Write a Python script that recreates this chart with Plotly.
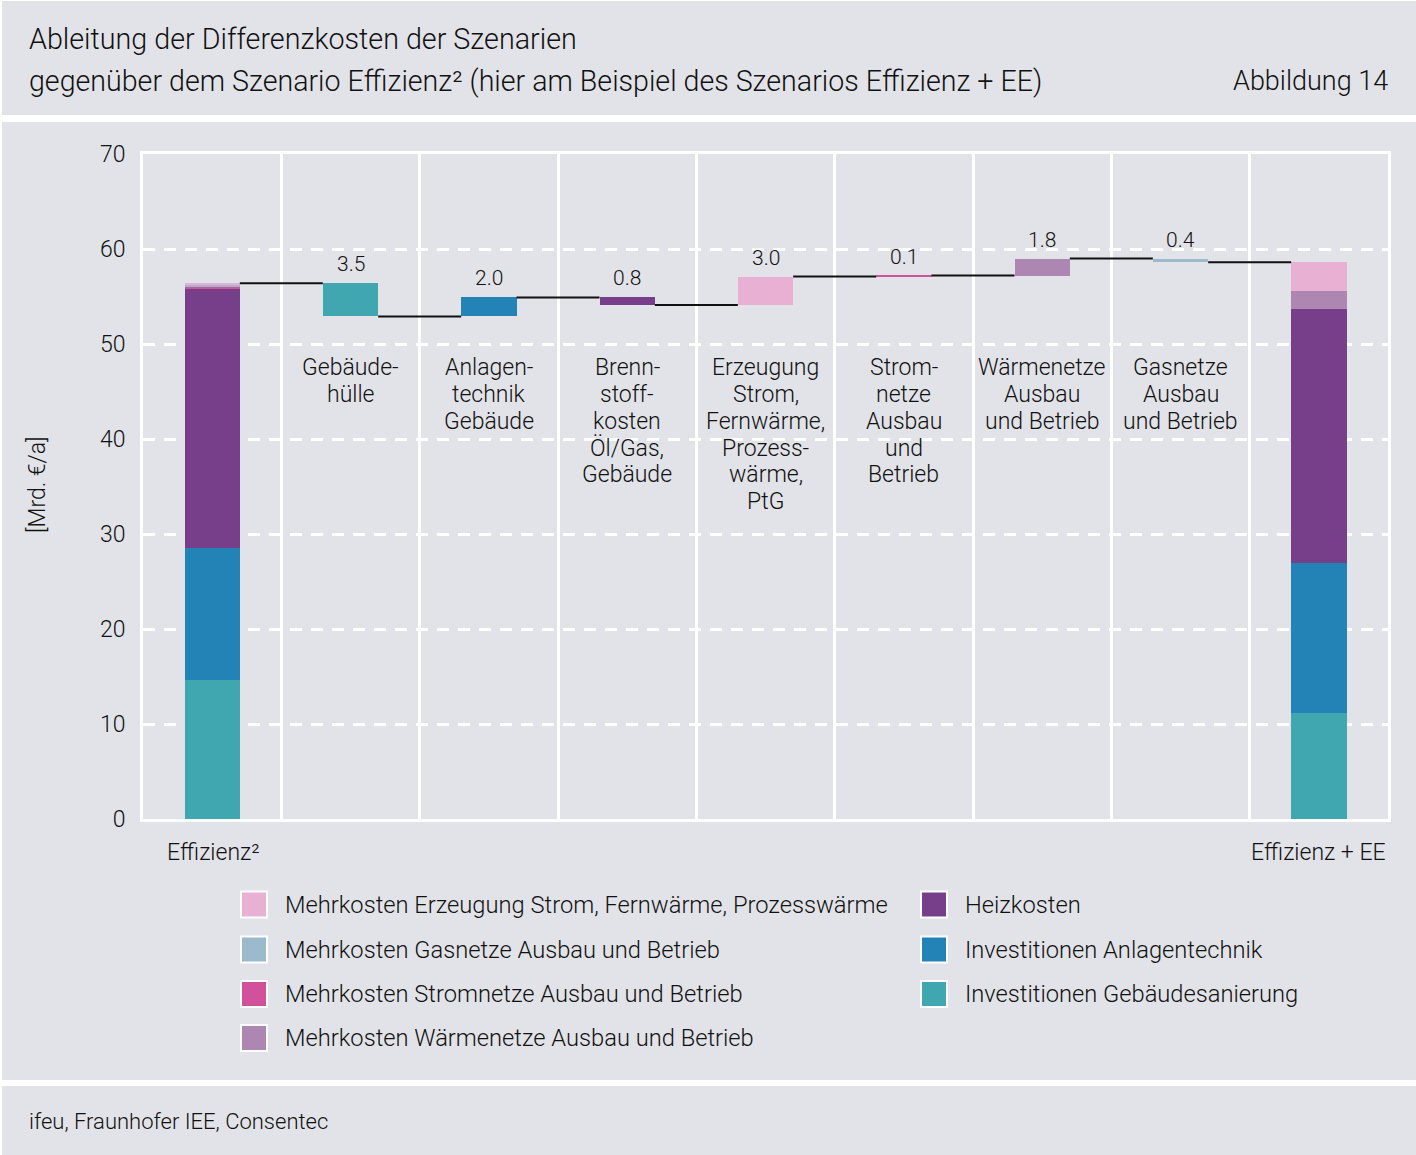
import numpy as np
import plotly.graph_objects as go

# Pixel frame of the plot area inside the 1416x1155 page
W, H = 1416, 1155
L, R, T, B = 143, 1388, 154, 819


def fx(p):
    return (p - L) / (R - L)


def fy(p):
    return (B - p) / (B - T)


# --- data -------------------------------------------------------------
components = [
    "Investitionen Gebäudesanierung",
    "Investitionen Anlagentechnik",
    "Heizkosten",
    "Mehrkosten Stromnetze Ausbau und Betrieb",
    "Mehrkosten Gasnetze Ausbau und Betrieb",
    "Mehrkosten Wärmenetze Ausbau und Betrieb",
    "Mehrkosten Erzeugung Strom, Fernwärme, Prozesswärme",
]
colors = ["#40a7b1", "#2383b7", "#773e8a", "#d1519a", "#9bbbcc", "#ad86b2", "#e8b0d2"]

start_name = "Effizienz²"
end_name = "Effizienz + EE"
start_values = [14.6, 13.9, 27.3, 0.2, 0.3, 0.0, 0.1]
end_values = [11.2, 15.8, 26.7, 0.0, 0.0, 1.9, 3.0]

step_names = [
    "Gebäude-<br>hülle",
    "Anlagen-<br>technik<br>Gebäude",
    "Brenn-<br>stoff-<br>kosten<br>Öl/Gas,<br>Gebäude",
    "Erzeugung<br>Strom,<br>Fernwärme,<br>Prozess-<br>wärme,<br>PtG",
    "Strom-<br>netze<br>Ausbau<br>und<br>Betrieb",
    "Wärmenetze<br>Ausbau<br>und Betrieb",
    "Gasnetze<br>Ausbau<br>und Betrieb",
]
step_values = [-3.5, 2.0, -0.8, 3.0, 0.1, 1.8, -0.4]
step_component = [0, 1, 2, 6, 3, 5, 4]

# legend layout: two columns
legend_col1 = [6, 4, 3, 5]
legend_col2 = [2, 1, 0]

panel = "#e2e3e8"
ink = "#111111"
FONT = "Roboto"
WEIGHT = 300

fig = go.Figure()

# end bars (stacked by hand with base)
start_base = np.concatenate([[0], np.cumsum(start_values)[:-1]])
end_base = np.concatenate([[0], np.cumsum(end_values)[:-1]])
for k, name in enumerate(components):
    fig.add_trace(go.Bar(
        x=[0, 8], y=[start_values[k], end_values[k]],
        base=[start_base[k], end_base[k]],
        width=0.4, marker=dict(color=colors[k], line=dict(width=0)),
        name=name, showlegend=False,
    ))

# waterfall steps
start_total = float(np.sum(start_values))
levels = start_total + np.cumsum(step_values)
prev = np.concatenate([[start_total], levels[:-1]])
step_x = list(range(1, 8))
fig.add_trace(go.Bar(
    x=step_x, y=np.abs(step_values), base=np.minimum(prev, levels),
    width=0.4,
    marker=dict(color=[colors[c] for c in step_component], line=dict(width=0)),
    showlegend=False,
))

# connector lines
all_levels = np.concatenate([[start_total], levels])
cx, cy = [], []
for i in range(8):
    cx += [i + 0.2, i + 0.8, None]
    cy += [all_levels[i], all_levels[i], None]
fig.add_trace(go.Scatter(x=cx, y=cy, mode="lines",
                         line=dict(color=ink, width=2), showlegend=False,
                         hoverinfo="skip"))


def tfont(size):
    return dict(size=size, color=ink, family=FONT, weight=WEIGHT)


ann = []
# value labels and category labels (one annotation per line for tight spacing)
for i, v in enumerate(step_values):
    top = max(prev[i], levels[i])
    ann.append(dict(x=i + 1, y=top, xref="x", yref="y", text=f"{abs(v):.1f}",
                    showarrow=False, yanchor="bottom", yshift=5,
                    font=tfont(21)))
    for j, line in enumerate(step_names[i].split("<br>")):
        ann.append(dict(x=i + 1, y=47.5, xref="x", yref="y", text=line,
                        showarrow=False, yanchor="middle", yshift=-26.8 * j,
                        font=tfont(23)))

# end labels
ann.append(dict(x=fx(165), y=fy(852), xref="paper", yref="paper", text=start_name,
                showarrow=False, xanchor="left", yanchor="middle",
                font=tfont(23)))
ann.append(dict(x=fx(1388), y=fy(852), xref="paper", yref="paper", text=end_name,
                showarrow=False, xanchor="right", yanchor="middle",
                font=tfont(23)))

# y axis title
ann.append(dict(x=fx(37), y=fy(485), xref="paper", yref="paper", text="[Mrd. €/a]",
                showarrow=False, textangle=-90, xanchor="center", yanchor="middle",
                font=tfont(23)))

# titles and source
ann.append(dict(x=fx(27), y=fy(39), xref="paper", yref="paper",
                text="Ableitung der Differenzkosten der Szenarien",
                showarrow=False, xanchor="left", yanchor="middle",
                font=tfont(28.7)))
ann.append(dict(x=fx(27), y=fy(81), xref="paper", yref="paper",
                text="gegenüber dem Szenario Effizienz² (hier am Beispiel des Szenarios Effizienz + EE)",
                showarrow=False, xanchor="left", yanchor="middle",
                font=tfont(28.6)))
ann.append(dict(x=fx(1390), y=fy(81), xref="paper", yref="paper",
                text="Abbildung 14",
                showarrow=False, xanchor="right", yanchor="middle",
                font=tfont(27)))
ann.append(dict(x=fx(27), y=fy(1121), xref="paper", yref="paper",
                text="ifeu, Fraunhofer IEE, Consentec",
                showarrow=False, xanchor="left", yanchor="middle",
                font=tfont(22)))

shapes = []
# background panels
for (y0, y1) in [(1, 115), (122, 1080), (1086, 1155)]:
    shapes.append(dict(type="rect", xref="paper", yref="paper", layer="below",
                       x0=fx(2), x1=fx(1416), y0=fy(y1), y1=fy(y0),
                       fillcolor=panel, line=dict(width=0)))

# custom legend
rows = [904.5, 949.5, 994, 1038]
for col_x, items in [(241, legend_col1), (921, legend_col2)]:
    for r, k in enumerate(items):
        yc = rows[r]
        shapes.append(dict(type="rect", xref="paper", yref="paper",
                           x0=fx(col_x), x1=fx(col_x + 26),
                           y0=fy(yc + 13), y1=fy(yc - 13),
                           fillcolor=colors[k], line=dict(color="white", width=2)))
        ann.append(dict(x=fx(col_x + 42), y=fy(yc), xref="paper", yref="paper",
                        text=components[k], showarrow=False,
                        xanchor="left", yanchor="middle",
                        font=tfont(23.7)))

fig.update_layout(
    width=W, height=H, autosize=False,
    margin=dict(l=L, r=W - R, t=T, b=H - B, pad=0),
    paper_bgcolor="white", plot_bgcolor=panel,
    font=dict(family=FONT, color=ink, weight=WEIGHT),
    barmode="overlay", bargap=0,
    showlegend=False,
    annotations=ann, shapes=shapes,
    xaxis=dict(range=[-0.5, 8.5], tickvals=[i + 0.5 for i in range(8)],
               showticklabels=False, ticks="", showgrid=True,
               gridcolor="white", gridwidth=3, zeroline=False,
               showline=True, mirror=True, linecolor="white", linewidth=3,
               fixedrange=True),
    yaxis=dict(range=[0, 70], tickvals=list(range(0, 71, 10)),
               showgrid=True, gridcolor="white", gridwidth=2.5,
               griddash="12px,9px", zeroline=False,
               showline=True, mirror=True, linecolor="white", linewidth=3,
               ticks="outside", ticklen=10, tickcolor="rgba(0,0,0,0)",
               tickfont=tfont(23), fixedrange=True),
)

# the page body has a default 8px margin; drop it so the figure sits at 0,0
fig.write_html("out.html", config={"displayModeBar": False},
               post_script="document.body.style.margin='0px';")
